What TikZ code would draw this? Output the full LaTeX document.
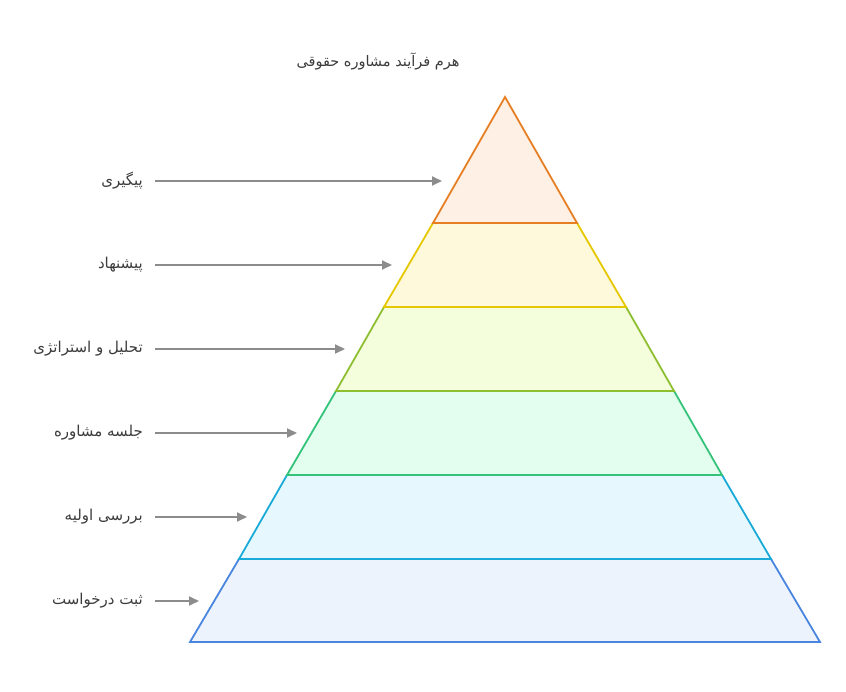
\documentclass[tikz,border=0pt]{standalone}
\usepackage{fontspec}
\usetikzlibrary{arrows.meta}
\TeXXeTstate=1
\newfontfamily\arabicfont[Script=Arabic]{DejaVu Sans}
\definecolor{sOr}{HTML}{E67E22}\definecolor{fOr}{HTML}{FFF0E5}
\definecolor{sYe}{HTML}{E5C800}\definecolor{fYe}{HTML}{FFF9DB}
\definecolor{sYg}{HTML}{8DBF30}\definecolor{fYg}{HTML}{F4FDDC}
\definecolor{sGr}{HTML}{33C47A}\definecolor{fGr}{HTML}{E3FDEF}
\definecolor{sCy}{HTML}{1AAAD8}\definecolor{fCy}{HTML}{E6F8FD}
\definecolor{sBl}{HTML}{4A86E0}\definecolor{fBl}{HTML}{ECF3FD}
\definecolor{txt}{HTML}{3C3C3C}
\definecolor{arrc}{HTML}{8C8C8C}
\begin{document}
\begin{tikzpicture}[x=1pt,y=-1pt,
  level/.style={line width=1.8pt,line join=miter},
  lbl/.style={anchor=east,inner sep=0pt,text=txt,font=\arabicfont\fontsize{15}{17}\selectfont},
  arr/.style={draw=arrc,line width=1.8pt,-{Triangle[length=10pt,width=9pt]}}]
\useasboundingbox (0,0) rectangle (846,692);
% levels bottom to top
\draw[level,draw=sBl,fill=fBl] (190,642) -- (820,642) -- (771,559) -- (239,559) -- cycle;
\draw[level,draw=sCy,fill=fCy] (239,559) -- (771,559) -- (722,475) -- (287,475) -- cycle;
\draw[level,draw=sGr,fill=fGr] (287,475) -- (722,475) -- (674,391) -- (336,391) -- cycle;
\draw[level,draw=sYg,fill=fYg] (336,391) -- (674,391) -- (626,307) -- (384,307) -- cycle;
\draw[level,draw=sYe,fill=fYe] (384,307) -- (626,307) -- (577,223) -- (433,223) -- cycle;
\draw[level,draw=sOr,fill=fOr] (433,223) -- (577,223) -- (505,97) -- cycle;
% title
\node[inner sep=0pt,text=txt,font=\arabicfont\fontsize{14.5}{17}\selectfont] (title) at (378,61) {\beginR هرم فرآیند مشاوره حقوقی\endR};
% labels
\node[lbl] (l1) at (143,181) {\beginR پیگیری\endR};
\node[lbl] (l2) at (143,265) {\beginR پیشنهاد\endR};
\node[lbl] (l3) at (143,349) {\beginR تحلیل و استراتژی\endR};
\node[lbl] (l4) at (143,433) {\beginR جلسه مشاوره\endR};
\node[lbl] (l5) at (143,517) {\beginR بررسی اولیه\endR};
\node[lbl] (l6) at (143,601) {\beginR ثبت درخواست\endR};
\coordinate (t1) at (442,181);
\coordinate (t2) at (392,265);
\coordinate (t3) at (345,349);
\coordinate (t4) at (297,433);
\coordinate (t5) at (247,517);
\coordinate (t6) at (199,601);
\foreach \i in {1,...,6}{
  \draw[arr] (155,0 |- t\i) -- (t\i);
}
\end{tikzpicture}
\end{document}
